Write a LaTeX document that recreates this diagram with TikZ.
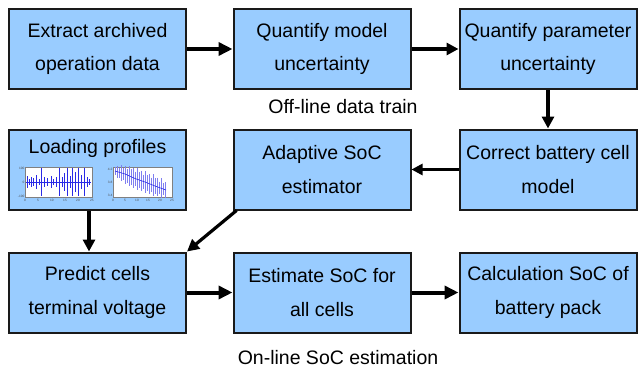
\documentclass[tikz,border=0pt]{standalone}
\usepackage{fontspec}
\setmainfont{Liberation Sans}
\usetikzlibrary{arrows.meta}

\definecolor{boxblue}{HTML}{99CCFF}
\definecolor{boxline}{HTML}{1A1A1A}
\definecolor{plotblue}{HTML}{2A2AE6}

\tikzset{
	blk/.style={draw=boxline,line width=2pt,fill=boxblue,minimum width=177pt,minimum height=80pt,align=center,inner sep=1pt,font=\fontsize{19.5}{33.5}\selectfont},
	flow/.style={line width=4pt,-{Triangle[length=14pt,width=13pt]}},
	flowmid/.style={line width=3.2pt,-{Triangle[length=12pt,width=12pt]}},
	flowthin/.style={line width=2.6pt,-{Triangle[length=11pt,width=11pt]}},
	ticklbl/.style={font=\fontsize{3.2}{3.2}\selectfont,inner sep=0.4pt,text=black!70},
	caption/.style={font=\fontsize{19.5}{24}\selectfont}
}

\begin{document}
\begin{tikzpicture}[x=1pt,y=-1pt]
		\useasboundingbox (0,0) rectangle (643,375);
		% off-line part
		\node[blk] (Extr) at (97.5,49) {Extract archived\\operation data};
		\node[blk] (QMod) at (322,49) {Quantify model\\uncertainty};
		\node[blk] (QPar) at (548,49) {Quantify parameter\\uncertainty};
		\node[caption] (OffL) at (343,107) {Off-line data train};
		\node[blk] (LoadP) at (97.5,169.5) {};
		\node[font=\fontsize{19.5}{24}\selectfont] (LoadT) at (97.5,148) {Loading profiles};
		\node[blk] (AdEst) at (322,169.5) {Adaptive SoC\\estimator};
		\node[blk] (CorM) at (548,169.5) {Correct battery cell\\model};
		% on-line part
		\node[blk] (PredV) at (97.5,292.5) {Predict cells\\terminal voltage};
		\node[blk] (EstS) at (322,292.5) {Estimate SoC for\\all cells};
		\node[blk] (CalcS) at (548,292.5) {Calculation SoC of\\battery pack};
		\node[caption] (OnL) at (338,358) {On-line SoC estimation};

		% loading profile plots
		\draw[black!50,line width=.3pt,fill=white] (25,167) rectangle (92,197);
		\draw[plotblue,line width=.6pt] (26,182) -- (91,182);
		\foreach \x/\h in {27/6,29/3,31/5,33/4,36/7,39/3,41/14,44/5,47/4,51/6,53/3,56/5,59/14,62/5,64/9,67/14,70/6,72/14,75/10,78/14,81/7,84/14,87/5,89/3}
			\draw[plotblue,line width=.45pt] (\x,{182-\h}) -- (\x,{182+\h});
		\node[ticklbl] (LxA) at (25,200) {0};
		\node[ticklbl] (LxB) at (38,200) {5};
		\node[ticklbl] (LxC) at (52,200) {10};
		\node[ticklbl] (LxD) at (65,200) {15};
		\node[ticklbl] (LxE) at (78,200) {20};
		\node[ticklbl] (LxF) at (92,200) {25};
		\node[ticklbl,anchor=east] (LyA) at (25,168) {100};
		\node[ticklbl,anchor=east] (LyB) at (25,182) {0};
		\node[ticklbl,anchor=east] (LyC) at (25,196) {-100};

		\draw[black!50,line width=.3pt,fill=white] (113,167) rectangle (172,197);
		\foreach \x/\h in {115/4,117/6,119/5,121/8,123/6,125/9,127/7,129/10,131/8,133/10,135/7,137/11,139/8,141/10,143/7,145/11,147/8,149/10,151/7,153/11,155/8,157/9,159/6,161/10,163/6,165/8}
			\draw[plotblue!60,line width=.45pt] (\x,{171+(\x-115)*0.38-\h}) -- (\x,{171+(\x-115)*0.38+\h});
		\draw[plotblue,line width=.6pt] (115,171) -- (125,174) -- (135,178.5) -- (145,182) -- (155,186) -- (166,190);
		\node[ticklbl] (RxA) at (113,200) {0};
		\node[ticklbl] (RxB) at (125,200) {5};
		\node[ticklbl] (RxC) at (137,200) {10};
		\node[ticklbl] (RxD) at (148,200) {15};
		\node[ticklbl] (RxE) at (160,200) {20};
		\node[ticklbl] (RxF) at (172,200) {25};
		\node[ticklbl,anchor=east] (RyA) at (113,169) {4.2};
		\node[ticklbl,anchor=east] (RyB) at (113,182) {3.8};
		\node[ticklbl,anchor=east] (RyC) at (113,195) {3.4};

		% connectors
		\draw[flow] (Extr) -- (QMod);
		\draw[flowmid] (QMod) -- (QPar);
		\draw[flowmid] (QPar) -- (CorM);
		\draw[flowthin] (CorM) -- (AdEst);
		\draw[flowmid] ([xshift=-8.5pt]LoadP.south) -- ([xshift=-8.5pt]PredV.north);
		\draw[flowmid] ([xshift=4pt]AdEst.south west) -- (PredV.north east);
		\draw[flow] (PredV) -- (EstS);
		\draw[flow] (EstS) -- (CalcS);
	\end{tikzpicture}
\end{document}
